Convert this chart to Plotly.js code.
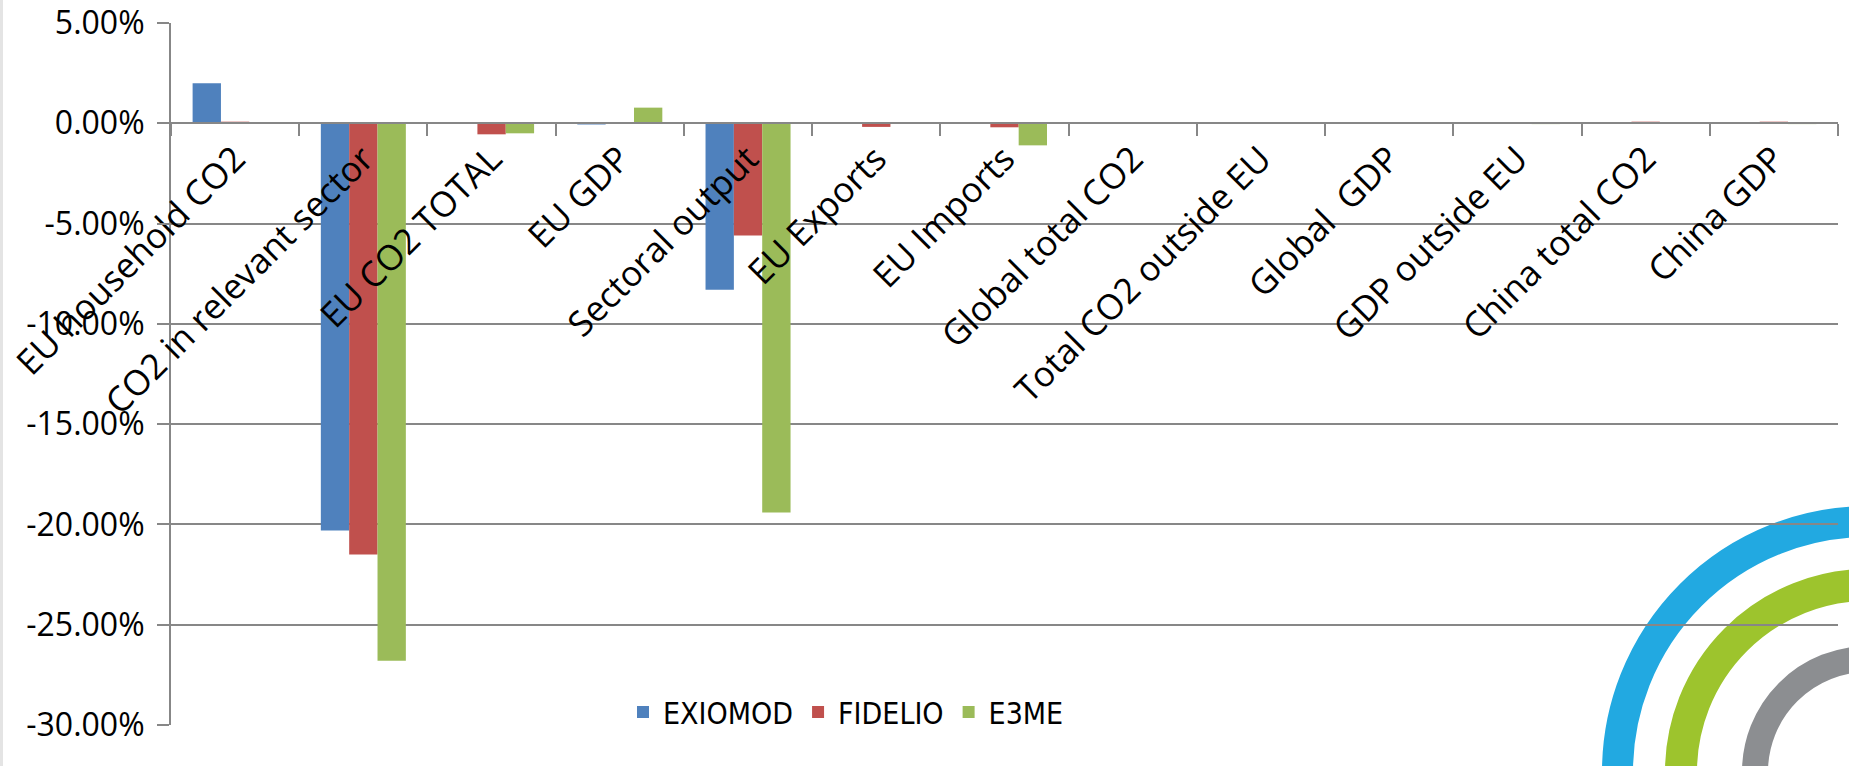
<!DOCTYPE html>
<html>
<head>
<meta charset="utf-8">
<script src="https://cdn.plot.ly/plotly-3.0.1.min.js"></script>
<style>
  html, body { margin: 0; padding: 0; background: #ffffff; }
  #chart { width: 1849px; height: 766px; }
</style>
</head>
<body>
<div id="chart"></div>
<script>
// Indicators compared across the three models (change vs. baseline, %)
const categories = [
  "EU household CO2",
  "CO2 in relevant sector",
  "EU CO2 TOTAL",
  "EU GDP",
  "Sectoral output",
  "EU Exports",
  "EU Imports",
  "Global total CO2",
  "Total CO2 outside EU",
  "Global  GDP",
  "GDP outside EU",
  "China total CO2",
  "China GDP"
];

const exiomod = [2.0, -20.3, 0, -0.06, -8.3, 0, 0, 0, 0, 0, 0, 0, 0];
const fidelio = [0.08, -21.5, -0.55, 0.06, -5.6, -0.18, -0.2, 0, 0.03, 0.03, 0, 0.08, 0.08];
const e3me    = [0, -26.8, -0.5, 0.78, -19.4, 0, -1.1, -0.02, 0, 0.05, -0.04, 0, -0.04];

const seriesNames = ["EXIOMOD", "FIDELIO", "E3ME"];
const seriesColors = ["#4F81BD", "#C0504D", "#9BBB59"];
const yTickVals = [5, 0, -5, -10, -15, -20, -25, -30];
const yTickText = ["5.00%", "0.00%", "-5.00%", "-10.00%", "-15.00%", "-20.00%", "-25.00%", "-30.00%"];

// Page geometry (pixels)
const W = 1849, H = 766;
const M = { l: 171, r: 11, t: 23, b: 41 };
const plotW = W - M.l - M.r;
const plotH = H - M.t - M.b;
const px2x = p => (p - M.l) / plotW;
const px2y = p => (H - M.b - p) / plotH;

const FONT = "Open Sans, Noto Sans, sans-serif";
const LEGEND_FONT = "Liberation Sans Narrow, DejaVu Sans Condensed, Open Sans, sans-serif";
const GRID = "#878787";

const traces = [exiomod, fidelio, e3me].map((vals, i) => ({
  type: "bar",
  name: seriesNames[i],
  x: categories,
  y: vals,
  marker: { color: seriesColors[i], line: { width: 0 } },
  hoverinfo: "x+y+name"
}));

// Concentric quarter rings in the lower-right corner
const ringCx = 1868, ringCy = 772;
const rings = [
  { r: 250.5, w: 31, c: "#22A9E1" },
  { r: 187, w: 32, c: "#9DC42D" },
  { r: 113, w: 26, c: "#8C8E91" }
];
const shapes = rings.map(g => ({
  type: "circle",
  xref: "paper", yref: "paper",
  x0: px2x(ringCx - g.r), x1: px2x(ringCx + g.r),
  y0: px2y(ringCy + g.r), y1: px2y(ringCy - g.r),
  line: { color: g.c, width: g.w },
  fillcolor: "rgba(0,0,0,0)",
  layer: "below"
}));
// thin light strip along the left edge
shapes.push({
  type: "rect", xref: "paper", yref: "paper",
  x0: px2x(0), x1: px2x(3), y0: px2y(H), y1: px2y(0),
  fillcolor: "#e4e4e4", line: { width: 0 }, layer: "below"
});

const layout = {
  width: W, height: H,
  margin: M,
  paper_bgcolor: "#ffffff",
  plot_bgcolor: "rgba(0,0,0,0)",
  font: { family: FONT, size: 30, color: "#000000" },
  barmode: "group",
  bargap: 0.337,
  bargroupgap: 0,
  showlegend: true,
  legend: {
    orientation: "h",
    x: px2x(846), xanchor: "center",
    y: px2y(712), yanchor: "middle",
    bgcolor: "rgba(0,0,0,0)",
    font: { family: LEGEND_FONT, size: 30, color: "#000000" },
    itemwidth: 30,
    traceorder: "normal"
  },
  xaxis: {
    type: "category",
    anchor: "free",
    position: 30 / 35,
    showline: true, linecolor: GRID, linewidth: 2,
    showgrid: false,
    ticks: "outside", ticklen: 12, tickwidth: 2, tickcolor: GRID,
    tickson: "boundaries",
    tickangle: -45,
    tickfont: { family: FONT, size: 35, color: "#000000" },
    zeroline: false,
    fixedrange: true
  },
  yaxis: {
    range: [-30, 5],
    tickvals: yTickVals,
    ticktext: yTickText,
    showline: true, linecolor: GRID, linewidth: 2,
    showgrid: true, gridcolor: GRID, gridwidth: 2,
    ticks: "outside", ticklen: 12, tickwidth: 2, tickcolor: GRID,
    ticklabelstandoff: 6,
    tickfont: { family: FONT, size: 32, color: "#000000" },
    zeroline: false,
    fixedrange: true
  },
  shapes: shapes
};

Plotly.newPlot("chart", traces, layout, { displayModeBar: false, staticPlot: true });
</script>
</body>
</html>
